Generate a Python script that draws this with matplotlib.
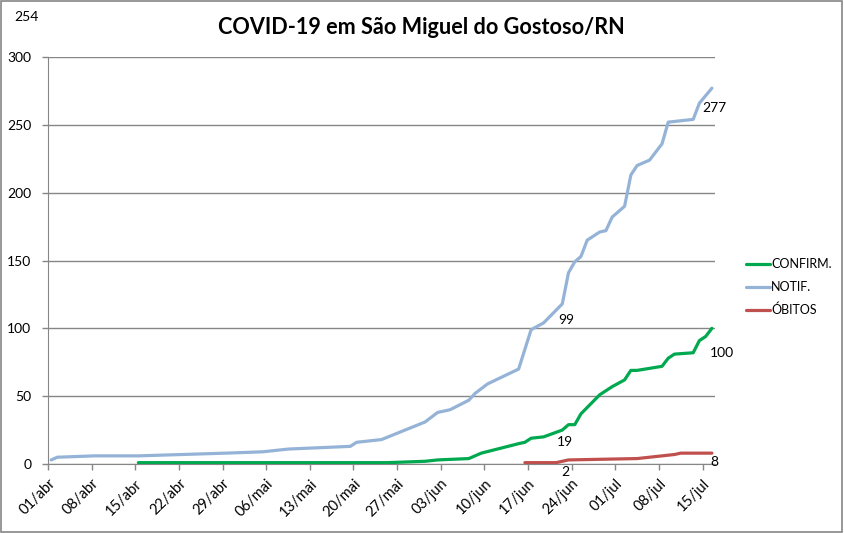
import matplotlib
matplotlib.use("Agg")
import matplotlib.pyplot as plt
import pandas as pd
from matplotlib.patches import Rectangle

plt.rcParams['font.family'] = ['Lato', 'DejaVu Sans']

# dados (datas de 2020)
notif_dates = ['04-01', '04-02', '04-08', '04-15', '04-22', '04-29', '05-05', '05-09',
               '05-19', '05-20', '05-24', '05-31', '06-02', '06-04', '06-07', '06-08',
               '06-10', '06-15', '06-17', '06-19', '06-22', '06-23', '06-24', '06-25',
               '06-26', '06-28', '06-29', '06-30', '07-02', '07-03', '07-04', '07-06',
               '07-08', '07-09', '07-13', '07-14', '07-16']
notif_vals = [3, 5, 6, 6, 7, 8, 9, 11, 13, 16, 18, 31, 38, 40, 47, 52, 59, 70, 99, 104,
              118, 141, 149, 153, 165, 171, 172, 182, 190, 213, 220, 224, 236, 252, 254,
              266, 277]

confirm_dates = ['04-15', '05-25', '05-31', '06-02', '06-07', '06-09', '06-15', '06-16',
                 '06-17', '06-19', '06-22', '06-23', '06-24', '06-25', '06-28', '06-30',
                 '07-02', '07-03', '07-04', '07-08', '07-09', '07-10', '07-13', '07-14',
                 '07-15', '07-16']
confirm_vals = [1, 1, 2, 3, 4, 8, 15, 16, 19, 20, 25, 29, 29, 37, 51, 57, 62, 69, 69, 72,
                78, 81, 82, 91, 94, 100]

obitos_dates = ['06-16', '06-21', '06-22', '06-23', '07-04', '07-06', '07-08', '07-10',
                '07-11', '07-16']
obitos_vals = [1, 1, 2, 3, 4, 5, 6, 7, 8, 8]

tick_dates = ['04-01', '04-08', '04-15', '04-22', '04-29', '05-06', '05-13', '05-20',
              '05-27', '06-03', '06-10', '06-17', '06-24', '07-01', '07-08', '07-15']
tick_labels = ['01/abr', '08/abr', '15/abr', '22/abr', '29/abr', '06/mai', '13/mai',
               '20/mai', '27/mai', '03/jun', '10/jun', '17/jun', '24/jun', '01/jul',
               '08/jul', '15/jul']

# rotulos de dados: (data, valor, texto, deslocamento em pontos)
labels = [
    ('07-16', 277, '277', (2, -14)),
    ('06-17', 99, '99', (25, 7)),
    ('07-16', 100, '100', (7, -18)),
    ('06-17', 19, '19', (24, -3)),
    ('06-22', 2, '2', (2, -8)),
    ('07-16', 8, '8', (2, -6.5)),
]


def to_dt(lst):
    # pontos no meio do dia (eixo de datas do Excel)
    return pd.to_datetime(['2020-' + d for d in lst]) + pd.Timedelta(hours=12)


fig = plt.figure(figsize=(8.44, 5.33), dpi=100)
ax = fig.add_axes([48 / 844, 69 / 533, (715 - 48) / 844, (464 - 57) / 533])

green = '#00A84F'
blue = '#95B3D7'
red = '#C0504D'

ax.plot(to_dt(confirm_dates), confirm_vals, color=green, lw=2.3, label='CONFIRM.',
        solid_capstyle='round', zorder=3)
ax.plot(to_dt(notif_dates), notif_vals, color=blue, lw=2.3, label='NOTIF.',
        solid_capstyle='round', zorder=3)
ax.plot(to_dt(obitos_dates), obitos_vals, color=red, lw=2.3, label='ÓBITOS',
        solid_capstyle='round', zorder=3)

for d, v, txt, off in labels:
    ax.annotate(txt, xy=(to_dt([d])[0], v), xytext=off, textcoords='offset points',
                ha='center', va='center', fontsize=10, color='black')

ax.set_xlim(pd.Timestamp('2020-04-01'), pd.Timestamp('2020-07-17'))
ax.set_ylim(0, 300)
ax.set_yticks(range(0, 301, 50))
ax.set_xticks(pd.to_datetime(['2020-' + d for d in tick_dates]))
ax.set_xticklabels(tick_labels, rotation=45, ha='right', rotation_mode='anchor',
                   fontsize=10.5)

ax.yaxis.grid(True, color='#868686', lw=1)
ax.set_axisbelow(True)
for s in ['top', 'right']:
    ax.spines[s].set_visible(False)
for s in ['left', 'bottom']:
    ax.spines[s].set_color('#868686')
ax.tick_params(axis='both', colors='#868686', labelcolor='black', length=4, width=1)
ax.tick_params(axis='y', pad=8, labelsize=10)
ax.tick_params(axis='x', pad=5)

fig.text(421 / 844, 1 - 27 / 533, 'COVID-19 em São Miguel do Gostoso/RN',
         ha='center', va='center', fontsize=15.6, fontweight='bold')
fig.text(14 / 844, 1 - 17 / 533, '254', ha='left', va='center', fontsize=10)

fig.legend(loc='upper left', bbox_to_anchor=(740 / 844, 1 - 252 / 533), frameon=False,
           fontsize=9, handlelength=1.9, handletextpad=0.1, labelspacing=0.85,
           borderpad=0)

fig.patches.append(Rectangle((0.001, 0.002), 0.997, 0.996, transform=fig.transFigure,
                             fill=False, edgecolor='#868686', lw=1.2))

fig.savefig('out.png', dpi=100)
